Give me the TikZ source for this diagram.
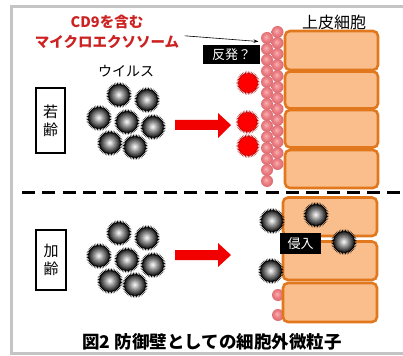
\documentclass[tikz,border=0pt]{standalone}
\usepackage{fontspec}
\newfontfamily\jp{Noto Sans CJK JP}
\usetikzlibrary{arrows.meta}
\definecolor{cellfill}{HTML}{FABE8C}
\definecolor{cellline}{HTML}{E2781E}
\definecolor{labelred}{HTML}{CC2222}
\definecolor{pushred}{HTML}{F20000}
\definecolor{framegray}{HTML}{C4C4C4}
\definecolor{pinkhi}{HTML}{F8B4B6}
\definecolor{pinkmid}{HTML}{EE8489}
\definecolor{pinkedge}{HTML}{DC6A70}
\pgfdeclareradialshading{pinkball}{\pgfpoint{-5bp}{5bp}}{color(0bp)=(pinkhi); color(12bp)=(pinkmid); color(25bp)=(pinkedge); color(50bp)=(pinkedge)}
\tikzset{
  virus/.pic={
    % spiky fringe as one star-shaped outline
    \fill[black] (0:13) \foreach \a in {0,7.5,...,352.5} { -- (\a:13) -- ({\a+3.75}:9.8) } -- cycle;
    % body: concentric discs from dark rim to bright centre
    \foreach \i in {0,...,12} {
      \pgfmathsetmacro\rr{10-0.8*\i}
      \pgfmathsetmacro\cc{84-7*\i}
      \fill[black!\cc] (0,0) circle (\rr);
    }
  },
  redball/.pic={
    \fill[red!75!black] (0:12) \foreach \a in {0,8,...,352} { -- (\a:12) -- ({\a+4}:8.8) } -- cycle;
    \fill[red] (0,0) circle (9.2);
  },
  pinkdot/.pic={
    \shade[shading=pinkball] (0,0) circle (6);
  },
  cellbox/.style={draw=cellline, fill=cellfill, line width=2.6pt, rounded corners=5pt},
  agebox/.style={draw=black, fill=white, line width=1.5pt, inner sep=0pt, align=center,
    font=\jp\fontsize{15}{18}\selectfont},
  tagbox/.style={fill=black, text=white, inner sep=0pt, font=\jp\fontsize{13}{15}\selectfont},
  pushbar/.style={fill=pushred},
}
\begin{document}
\begin{tikzpicture}[x=1pt,y=-1pt]
\useasboundingbox (0,0) rectangle (403,355);
\clip (0,0) rectangle (403,355);
% outer frame
\draw[framegray, line width=2.6pt] (11.3,6.5) rectangle (420,353.7);

% ---------- upper panel: young ----------
% exosome wall on the cell surface
\foreach \k in {0,...,13} \pic at (267,38+11*\k) {pinkdot};
\foreach \k in {0,...,12} \pic at (277.5,32+11*\k) {pinkdot};
% epithelial cells
\draw[cellbox] (285,31) rectangle (378,70);
\draw[cellbox] (285,71.5) rectangle (378,108.5);
\draw[cellbox] (285,110) rectangle (378,147.5);
\draw[cellbox] (285,150) rectangle (378,188);

\node[font=\jp\fontsize{16}{18}\selectfont] (epi) at (334,22) {上皮細胞};
\node[font=\jp\bfseries\fontsize{14.5}{16}\selectfont, text=labelred] (cd9) at (107,22) {CD9を含む};
\node[font=\jp\bfseries\fontsize{14.5}{16}\selectfont, text=labelred] (mv) at (107,42) {マイクロエクソソーム};
\coordinate (wallpt) at (258.5,41.5);
\draw[-{Stealth[length=5pt,width=3.5pt]}, line width=0.6pt] (mv.north east) ++(2,4) coordinate (mvend) (mvend) -- (wallpt);
\node[tagbox, minimum width=57pt, minimum height=19pt] (rep) at (231.5,54.5) {反発？};

\node[font=\jp\fontsize{14}{16}\selectfont] (vlab) at (126,71) {ウイルス};
\node[agebox, minimum width=29pt, minimum height=65pt] (young) at (50.5,120.5) {若\\齢};

\foreach \p in {(119,95),(147,100),(99,118),(127,122),(153,127),(110,143),(135,147)}
  \pic at \p {virus};

% push arrow
\fill[pushbar] (175,120) -- (218,120) -- (218,113) -- (231,125) -- (218,138) -- (218,130) -- (175,130) -- cycle;

% repelled particles
\pic at (248,83) {redball};
\pic at (247.5,122) {redball};
\pic at (248,146) {redball};

% divider
\coordinate (divl) at (22,192.5);
\coordinate (divr) at (410,192.5);
\draw[line width=3.2pt, dash pattern=on 13pt off 7.3pt] (divl) -- (divr);

% ---------- lower panel: aged ----------
\pic at (278,295) {pinkdot};
\pic at (278,315) {pinkdot};
\draw[cellbox] (283,197.5) rectangle (377,236);
\draw[cellbox] (283,241.5) rectangle (377,280);
\draw[cellbox] (283,283) rectangle (377,322);

\node[agebox, minimum width=30pt, minimum height=60pt] (aged) at (51,260) {加\\齢};

\foreach \p in {(119,233),(147,238),(99,256),(127,260),(153,265),(110,281),(135,285)}
  \pic at \p {virus};

\fill[pushbar] (175,250) -- (218,250) -- (218,243) -- (231,255) -- (218,267) -- (218,260) -- (175,260) -- cycle;

\pic at (272,221) {virus};
\pic at (316,215) {virus};
\pic at (344,242) {virus};
\pic at (271,271) {virus};

\node[tagbox, minimum width=41pt, minimum height=21pt] (inv) at (300.5,243.5) {侵入};

% caption
\node[font=\jp\bfseries\fontsize{17.5}{20}\selectfont] (cap) at (212,342) {図2 防御壁としての細胞外微粒子};
\end{tikzpicture}
\end{document}
